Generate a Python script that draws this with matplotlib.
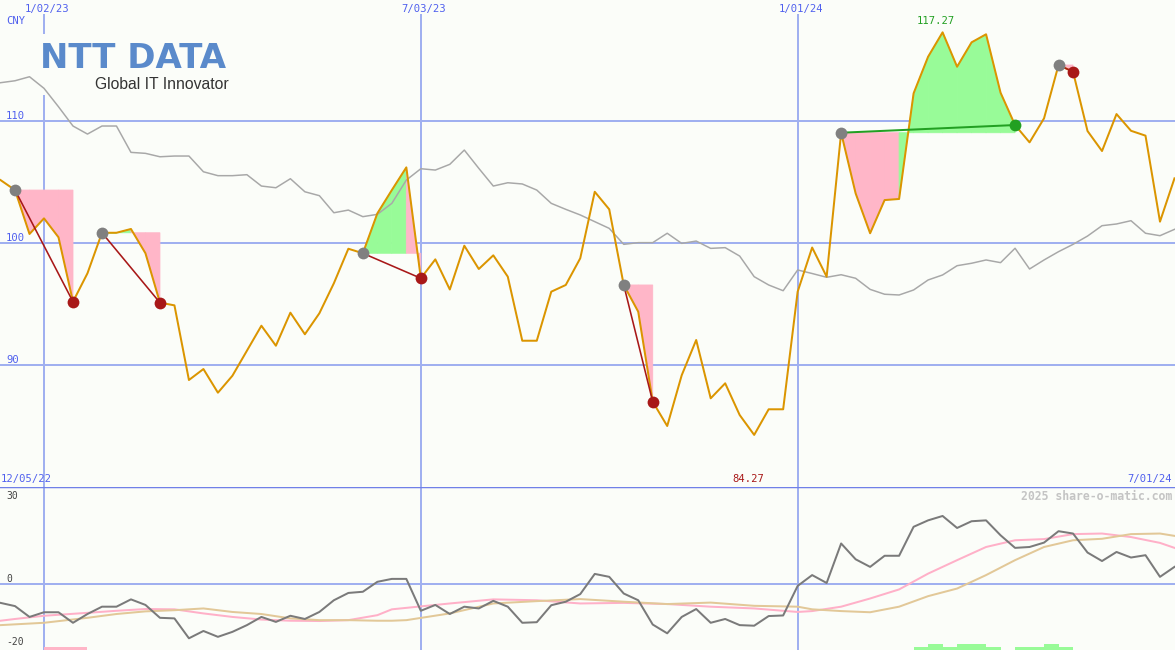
import numpy as np
import pandas as pd
import matplotlib
matplotlib.use("Agg")
import matplotlib.pyplot as plt
import matplotlib.dates as mdates
import matplotlib.transforms as mtransforms
from matplotlib.patches import Rectangle, Polygon

# weekly data, 12/12/22 .. 7/01/24
dates = pd.date_range("2022-12-12", periods=82, freq="7D")
dnum = mdates.date2num(dates)

# NTT Data close (CNY)
price = [105.16, 104.34, 100.74, 102.02, 100.47, 95.19, 97.52, 100.84, 100.84, 101.15,
         99.16, 95.11, 94.89, 88.77, 89.67, 87.73, 89.12, 91.17, 93.22, 91.58,
         94.29, 92.52, 94.24, 96.70, 99.53, 99.16, 102.43, 104.34, 106.20, 97.11,
         98.66, 96.19, 99.78, 97.87, 98.99, 97.24, 91.99, 91.99, 96.01, 96.56,
         98.75, 104.20, 102.76, 96.56, 94.37, 86.99, 85.00, 89.16, 92.05, 87.27,
         88.50, 85.90, 84.27, 86.37, 86.37, 96.01, 99.63, 97.24, 109.04, 104.07,
         100.80, 103.52, 103.61, 112.27, 115.27, 117.27, 114.45, 116.45, 117.11, 112.32,
         109.67, 108.25, 110.22, 114.59, 114.04, 109.18, 107.54, 110.57, 109.20, 108.80,
         101.75, 105.30]

# benchmark index (rebased)
bench = [113.14, 113.30, 113.63, 112.68, 111.17, 109.59, 108.93, 109.59, 109.59, 107.43,
         107.35, 107.07, 107.13, 107.13, 105.84, 105.52, 105.52, 105.60, 104.67, 104.53,
         105.27, 104.20, 103.88, 102.48, 102.70, 102.16, 102.35, 103.25, 105.16, 106.09,
         105.98, 106.45, 107.62, 106.12, 104.67, 104.94, 104.84, 104.34, 103.25, 102.76,
         102.30, 101.75, 101.20, 99.89, 100.03, 100.03, 100.80, 99.97, 100.16, 99.56,
         99.62, 98.93, 97.24, 96.56, 96.09, 97.79, 97.50, 97.19, 97.40, 97.11,
         96.20, 95.80, 95.74, 96.15, 96.97, 97.38, 98.14, 98.34, 98.61, 98.39,
         99.57, 97.87, 98.61, 99.29, 99.89, 100.57, 101.42, 101.56, 101.83, 100.80,
         100.60, 101.12]

# lower panel: momentum + two averages
momentum = [-6.5, -7.6, -11.3, -9.7, -9.7, -13.3, -10.3, -7.8, -7.8, -5.3,
            -7.2, -11.6, -11.8, -18.6, -16.1, -18.1, -16.4, -14.1, -11.3, -13.0,
            -10.9, -12.0, -9.6, -5.6, -3.1, -2.7, 0.7, 1.7, 1.7, -9.2,
            -7.2, -10.3, -7.8, -8.4, -5.8, -7.8, -13.3, -13.1, -7.3, -6.1,
            -3.5, 3.4, 2.4, -3.3, -5.6, -13.9, -16.9, -11.3, -8.6, -13.3,
            -12.0, -14.1, -14.3, -11.0, -10.8, -0.7, 3.0, 0.3, 13.8, 8.4,
            5.8, 9.6, 9.6, 19.5, 21.7, 23.2, 19.1, 21.4, 21.7, 16.6,
            12.3, 12.6, 14.1, 18.0, 17.2, 10.7, 7.8, 10.9, 9.0, 9.8,
            2.4, 5.8]

fast_k = [0, 1, 3, 6, 8, 10, 12, 14, 16, 18, 20, 22, 24, 26, 27, 28, 31, 34, 37, 40,
          43, 46, 49, 52, 55, 56, 58, 60, 62, 64, 66, 68, 70, 72, 74, 76, 78, 80, 81]
fast_ma = [-12.6, -12.0, -10.9, -9.9, -9.2, -8.6, -8.7, -10.1, -11.3, -12.2, -12.6, -12.7,
           -12.4, -10.7, -8.7, -8.2, -6.7, -5.3, -5.6, -6.7, -6.5, -6.9, -7.8, -8.4, -9.6,
           -9.3, -7.8, -5.0, -1.9, 3.5, 8.1, 12.6, 14.9, 15.3, 17.0, 17.2, 16.0, 14.0, 12.3]

slow_k = [0, 3, 6, 8, 10, 12, 14, 16, 18, 20, 22, 24, 26, 27, 28, 31, 34, 37, 40, 43,
          46, 49, 52, 55, 56, 58, 60, 62, 64, 66, 68, 70, 72, 74, 76, 78, 80, 81]
slow_ma = [-14.1, -13.3, -11.6, -10.3, -9.4, -9.0, -8.4, -9.6, -10.3, -11.8, -12.4, -12.4,
           -12.6, -12.6, -12.4, -10.1, -6.7, -5.9, -5.2, -6.1, -6.9, -6.4, -7.5, -7.8,
           -8.7, -9.3, -9.7, -7.8, -4.2, -1.6, 3.0, 8.1, 12.6, 14.9, 15.4, 17.0, 17.2, 16.4]

# signal trades (week index of entry / exit)
entry_k = [1, 7, 25, 43, 58, 73]
exit_k = [5, 11, 29, 45, 70, 74]

# small bars at the bottom of the lower panel
bar_k = [3, 4, 5, 63, 64, 65, 66, 67, 68, 70, 71, 72, 73]
bar_lvl = [1, 1, 1, 1, 2, 1, 2, 2, 1, 1, 1, 2, 1]
bar_up = [False, False, False] + [True] * 10

vlines = ["2023-01-02", "2023-07-03", "2024-01-01"]
vlabels = ["1/02/23", "7/03/23", "1/01/24"]
start_label = "12/05/22"
end_label = "7/01/24"

BG = "#fbfdf9"
GRID = "#a0b0f0"
BLUE_TXT = "#5060ee"
PINK = "#ffb6c8"
GREEN = "#98fb98"
ORANGE = "#db9500"
LOSS = "#a81818"
WIN = "#22a022"
MONO = "DejaVu Sans Mono"
FS = 7.6

W, H = 1175, 650
split = 487
fig = plt.figure(figsize=(W / 100, H / 100), dpi=100, facecolor=BG)
ax = fig.add_axes([0, (H - split) / H, 1, split / H])
ax2 = fig.add_axes([0, 0, 1, (H - split) / H])

x0 = dnum[0] - 0.25
x1 = dnum[-1] + 0.25
for a in (ax, ax2):
    a.set_facecolor(BG)
    a.set_xlim(x0, x1)
    a.set_xticks([])
    a.set_yticks([])
    for s in a.spines.values():
        s.set_visible(False)

ax.set_ylim(80.0, 119.92)
ax2.set_ylim(-22.6, 33.1)

px = 0.72  # points per pixel
vnum = mdates.date2num(pd.to_datetime(vlines))

# ---- upper panel ----
for lvl in [90, 100, 110]:
    ax.axhline(lvl, color=GRID, lw=2 * px, zorder=1)
for d in vnum:
    ax.axvline(d, ymax=1 - 15 / split, color=GRID, lw=2 * px, zorder=1)
    ax2.axvline(d, color=GRID, lw=2 * px, zorder=1)

tx = mtransforms.blended_transform_factory(ax.transData, ax.transAxes)
for d, lab in zip(vnum, vlabels):
    ax.annotate(lab, xy=(d, 1), xycoords=tx, xytext=(3, -9), textcoords="offset pixels",
                ha="center", va="center", fontsize=FS, family=MONO, color=BLUE_TXT)

ty = mtransforms.blended_transform_factory(ax.transAxes, ax.transData)
for lvl in [90, 100, 110]:
    ax.annotate(str(lvl), xy=(0, lvl), xycoords=ty, xytext=(6, 5), textcoords="offset pixels",
                ha="left", va="center", fontsize=FS, family=MONO, color=BLUE_TXT)
ax.annotate("CNY", xy=(0, 1), xycoords="axes fraction", xytext=(6, -21), textcoords="offset pixels",
            ha="left", va="center", fontsize=FS, family=MONO, color=BLUE_TXT)
ax.annotate(start_label, xy=(0, 0), xycoords="axes fraction", xytext=(1, 8), textcoords="offset pixels",
            ha="left", va="center", fontsize=FS, family=MONO, color=BLUE_TXT)
ax.annotate(end_label, xy=(1, 0), xycoords="axes fraction", xytext=(-3, 8), textcoords="offset pixels",
            ha="right", va="center", fontsize=FS, family=MONO, color=BLUE_TXT)

# logo
ax.add_patch(Rectangle((30 / W, 1 - 95 / split), 205 / W, 61 / split, transform=ax.transAxes,
                       facecolor=BG, edgecolor="none", zorder=1.5))
ax.text(40 / W, 1 - 68 / split, "NTT DATA", transform=ax.transAxes, ha="left", va="baseline",
        fontsize=24.5, fontweight="bold", family="DejaVu Sans", color="#5a8acb", zorder=1.6)
ax.text(95 / W, 1 - 89 / split, "Global IT Innovator", transform=ax.transAxes, ha="left", va="baseline",
        fontsize=11.3, family="Liberation Sans", color="#333333", zorder=1.6)

# trade fills, coloured per segment by the closing side
for ek, xk in zip(entry_k, exit_k):
    lvl = price[ek]
    for i in range(ek, xk):
        col = GREEN if price[i + 1] >= lvl else PINK
        ax.add_patch(Polygon([(dnum[i], lvl), (dnum[i], price[i]), (dnum[i + 1], price[i + 1]),
                              (dnum[i + 1], lvl)],
                             closed=True, facecolor=col, edgecolor=col, lw=0.6, zorder=2))

ax.plot(dnum, bench, color="#a8a8a8", lw=1.5 * px, zorder=3)
ax.plot(dnum, price, color=ORANGE, lw=2 * px, zorder=4)

for ek, xk in zip(entry_k, exit_k):
    won = price[xk] > price[ek]
    c = WIN if won else LOSS
    ax.plot([dnum[ek], dnum[xk]], [price[ek], price[xk]], color=c, lw=(2 if won else 1.6) * px, zorder=5)
    ax.plot(dnum[ek], price[ek], "o", ms=8.5, color="#808080", mec="none", zorder=6)
    ax.plot(dnum[xk], price[xk], "o", ms=8.5, color=c, mec="none", zorder=6)

imax = int(np.argmax(price))
imin = int(np.argmin(price))
ax.annotate(f"{price[imax]:.2f}", xy=(dnum[imax], 1), xycoords=tx, xytext=(-7, -21),
            textcoords="offset pixels", ha="center", va="center", fontsize=FS, family=MONO, color=WIN)
ax.annotate(f"{price[imin]:.2f}", xy=(dnum[imin], 0), xycoords=tx, xytext=(-6, 8),
            textcoords="offset pixels", ha="center", va="center", fontsize=FS, family=MONO, color=LOSS)

# ---- lower panel ----
ax2.axhline(0, color=GRID, lw=2 * px, zorder=1)
ax2.axhline(33.1, color="#7080e8", lw=2.5 * px, zorder=5)

for k, l, up in zip(bar_k, bar_lvl, bar_up):
    ax2.bar(dnum[k], l * 1.1, width=7, bottom=-22.6, align="edge",
            color=GREEN if up else PINK, zorder=2, linewidth=0)

ax2.plot(dnum[fast_k], fast_ma, color="#ffb0c8", lw=2 * px, zorder=3)
ax2.plot(dnum[slow_k], slow_ma, color="#e2c898", lw=2 * px, zorder=3)
ax2.plot(dnum, momentum, color="#7a7a7a", lw=2 * px, zorder=4)

ty2 = mtransforms.blended_transform_factory(ax2.transAxes, ax2.transData)
for v, dy in [(30, 0), (0, 5), (-20, 0)]:
    ax2.annotate(str(v), xy=(0, v), xycoords=ty2, xytext=(6, dy), textcoords="offset pixels",
                 ha="left", va="center", fontsize=7, family=MONO, color="#444444")
ax2.annotate("2025 share-o-matic.com", xy=(1, 1), xycoords="axes fraction", xytext=(-3, -9),
             textcoords="offset pixels", ha="right", va="center", fontsize=8.3,
             fontweight="bold", family=MONO, color="#c4c4c4")

fig.savefig("out.png", dpi=100, facecolor=BG)
